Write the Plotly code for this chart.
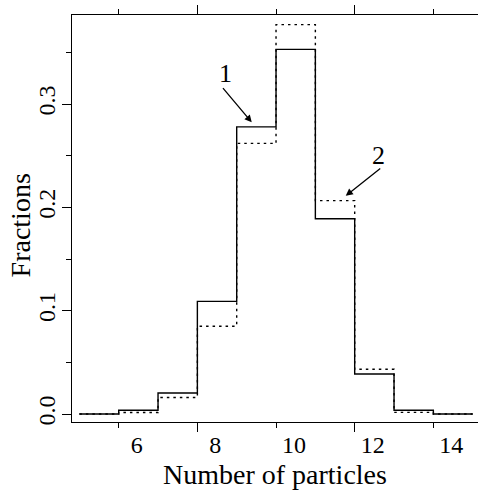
import plotly.graph_objects as go

# Data
particles = [5, 6, 7, 8, 9, 10, 11, 12, 13, 14]
fractions_1 = [0.0, 0.0036, 0.0203, 0.109, 0.278, 0.353, 0.189, 0.0387, 0.0036, 0.0]
fractions_2 = [0.0, 0.0014, 0.016, 0.085, 0.262, 0.377, 0.2066, 0.0433, 0.0016, 0.0]
x_tick_labels = [6, 8, 10, 12, 14]
y_tick_values = [0.0, 0.1, 0.2, 0.3]
y_tick_labels = ["0.0", "0.1", "0.2", "0.3"]

FONT = "Liberation Serif, Times New Roman, serif"

def step_xy(cats, vals):
    xs = [c - 0.5 for c in cats] + [cats[-1] + 0.5]
    ys = list(vals) + [vals[-1]]
    return xs, ys

fig = go.Figure()
x1, y1 = step_xy(particles, fractions_1)
x2, y2 = step_xy(particles, fractions_2)
fig.add_trace(go.Scatter(x=x2, y=y2, mode="lines", line_shape="hv",
                         line=dict(color="black", width=1.4, dash="2.5px,4px"),
                         hoverinfo="skip", showlegend=False))
fig.add_trace(go.Scatter(x=x1, y=y1, mode="lines", line_shape="hv",
                         line=dict(color="black", width=1.4),
                         hoverinfo="skip", showlegend=False))

# annotations: labels, arrows, axis titles
ann = [
    dict(x=8.882, y=0.2824, ax=8.119, ay=0.3169, axref="x", ayref="y", text="",
         showarrow=True, arrowhead=2, arrowsize=1.1, arrowwidth=1.3, arrowcolor="black"),
    dict(x=11.272, y=0.2112, ax=12.188, ay=0.2388, axref="x", ayref="y", text="",
         showarrow=True, arrowhead=2, arrowsize=1.1, arrowwidth=1.3, arrowcolor="black"),
    dict(x=8.203, y=0.3298, text="1", showarrow=False, font=dict(family=FONT, size=26, color="black")),
    dict(x=12.101, y=0.2507, text="2", showarrow=False, font=dict(family=FONT, size=26, color="black")),
    dict(x=0.5, y=0, xref="paper", yref="paper", text="Number of particles", showarrow=False,
         xanchor="center", yanchor="middle", yshift=-52,
         font=dict(family=FONT, size=28, color="black")),
    dict(x=0, y=0.483, xref="paper", yref="paper", text="Fractions", showarrow=False,
         textangle=-90, xanchor="center", yanchor="middle", xshift=-52,
         font=dict(family=FONT, size=28, color="black")),
]

fig.update_layout(
    width=478, height=490,
    margin=dict(l=72, r=0, t=15, b=68, pad=0),
    paper_bgcolor="white", plot_bgcolor="white",
    font=dict(family=FONT, color="black"),
    annotations=ann,
    xaxis=dict(
        range=[4.3126, 14.635],
        tickmode="array",
        tickvals=[v - 0.5 for v in x_tick_labels],
        ticktext=[str(v) for v in x_tick_labels],
        ticklabelshift=18,
        ticklabelstandoff=-4,
        ticks="outside", ticklen=5, tickwidth=1, tickcolor="black",
        minor=dict(tickmode="array", tickvals=[7.5, 11.5], ticks="outside",
                   ticklen=9, tickwidth=1, tickcolor="black", showgrid=False),
        showline=True, linecolor="black", linewidth=1, mirror="ticks",
        showgrid=False, zeroline=False, automargin=False,
        tickfont=dict(family=FONT, size=24, color="black"),
    ),
    yaxis=dict(
        range=[-0.00775, 0.3863],
        tickmode="array", tickvals=y_tick_values, ticktext=y_tick_labels,
        tickangle=-90,
        ticklabelstandoff=-3,
        ticks="outside", ticklen=9, tickwidth=1, tickcolor="black",
        minor=dict(tickmode="array", tickvals=[0.05, 0.15, 0.25, 0.35], ticks="outside",
                   ticklen=5, tickwidth=1, tickcolor="black", showgrid=False),
        showline=True, linecolor="black", linewidth=1,
        showgrid=False, zeroline=False, automargin=False,
        tickfont=dict(family=FONT, size=24, color="black"),
    ),
)

fig.write_html("out.html", config={"displayModeBar": False},
               post_script="document.body.style.margin='0';document.body.style.overflow='hidden';")
